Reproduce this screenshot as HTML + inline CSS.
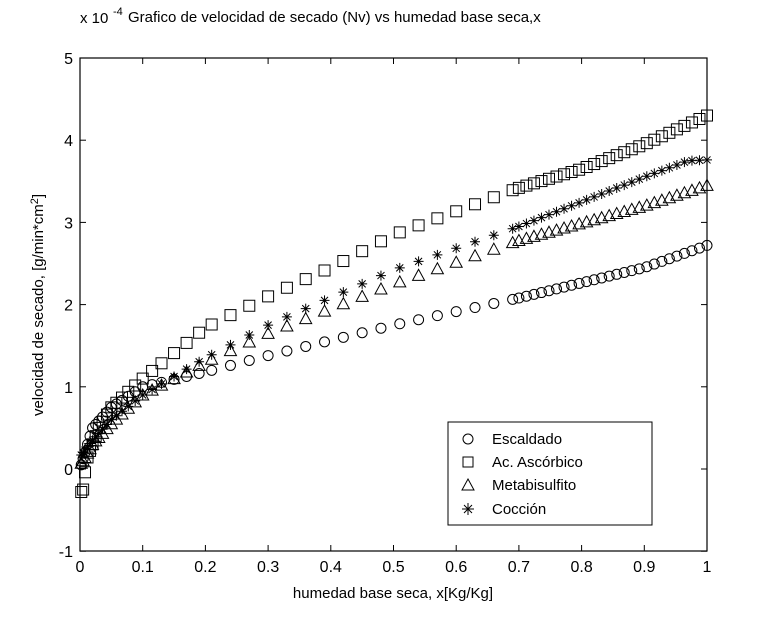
<!DOCTYPE html>
<html><head><meta charset="utf-8"><style>
body{margin:0;background:#fff}
svg{display:block}
text{font-family:"Liberation Sans",sans-serif;fill:#000}
</style></head><body>
<svg id="s" width="764" height="624" xmlns="http://www.w3.org/2000/svg">
<rect width="764" height="624" fill="#fff"/>
<g id="data" fill="none" stroke="#000" stroke-width="1"></g>
<rect x="80" y="58" width="627" height="493" fill="none" stroke="#000" stroke-width="1.2"/>
<g id="ticks" stroke="#000" stroke-width="1"></g>
<g font-size="16" id="lab"></g>
<text x="80" y="23" font-size="15">x 10</text><text x="113" y="15" font-size="11">-4</text>
<text x="128" y="22" font-size="15">Grafico de velocidad de secado (Nv) vs humedad base seca,x</text>
<text x="393" y="598" font-size="15" text-anchor="middle">humedad base seca, x[Kg/Kg]</text>
<text transform="translate(43,305) rotate(-90)" font-size="15" text-anchor="middle">velocidad de secado, [g/min*cm<tspan dy="-5" font-size="11">2</tspan><tspan dy="5">]</tspan></text>
<rect x="448" y="422" width="204" height="103" fill="#fff" stroke="#000"/>
<g fill="none" stroke="#000">
<circle cx="468" cy="439" r="5"/>
<rect x="463" y="457" width="10" height="10"/>
<polygon points="468,479 474,490 462,490"/>
<path d="M462,509h12M468,503v12M464,505l8,8M472,505l-8,8"/>
</g>
<g font-size="15"><text x="492" y="444">Escaldado</text><text x="492" y="467">Ac. Ascórbico</text><text x="492" y="490">Metabisulfito</text><text x="492" y="514">Cocción</text></g>
</svg>
<script>
var X=v=>80+v*627,Y=v=>469-v*82.2;
var tk=document.getElementById('ticks'),lab=document.getElementById('lab'),h='',l='';
for(var i=0;i<=10;i++){var x=X(i/10);h+=`<line x1="${x}" y1="551" x2="${x}" y2="545"/><line x1="${x}" y1="58" x2="${x}" y2="64"/>`;l+=`<text x="${x}" y="572" text-anchor="middle">${i==0?'0':i==10?'1':(i/10)}</text>`}
for(var j=-1;j<=5;j++){var y=Y(j);h+=`<line x1="80" y1="${y}" x2="86" y2="${y}"/><line x1="707" y1="${y}" x2="701" y2="${y}"/>`;l+=`<text x="73" y="${y+6}" text-anchor="end">${j}</text>`}
tk.innerHTML=h;lab.innerHTML=l;
function interp(p,x){for(var i=1;i<p.length;i++)if(x<=p[i][0]){var a=p[i-1],b=p[i];return a[1]+(b[1]-a[1])*(x-a[0])/(b[0]-a[0])}return p[p.length-1][1]}
var xs=[];[0.002,0.005,0.008,0.012,0.016,0.02,0.025,0.03,0.036,0.043,0.05,0.058,0.067,0.077,0.088,0.1,0.115,0.13,0.15,0.17,0.19].forEach(v=>xs.push(v));
for(var v=0.21;v<0.7;v+=0.03)xs.push(v);for(var v=0.7;v<=1.0001;v+=0.012)xs.push(v);
var C=[[0,0],[0.02,0.5],[0.05,0.75],[0.1,1.0],[0.2,1.18],[0.3,1.38],[0.5,1.75],[0.7,2.08],[0.9,2.45],[1,2.72]];
var S=[[0,-0.3],[0.005,-0.25],[0.01,0.1],[0.03,0.5],[0.05,0.75],[0.1,1.1],[0.2,1.72],[0.3,2.1],[0.4,2.45],[0.5,2.85],[0.7,3.42],[0.8,3.65],[0.9,3.95],[1,4.3]];
var T=[[0,0.05],[0.005,0.1],[0.02,0.3],[0.05,0.55],[0.1,0.9],[0.2,1.3],[0.3,1.65],[0.5,2.25],[0.7,2.78],[0.9,3.2],[1,3.45]];
var A=[[0,0.15],[0.005,0.2],[0.02,0.35],[0.05,0.6],[0.1,0.9],[0.2,1.35],[0.3,1.75],[0.5,2.42],[0.7,2.95],[0.9,3.55],[0.97,3.75],[1,3.76]];
var d='';
xs.forEach(x=>{var px=X(x);
var y=Y(interp(C,x));d+=`<circle cx="${px}" cy="${y}" r="5"/>`;
y=Y(interp(S,x));d+=`<rect x="${px-5.5}" y="${y-5.5}" width="11" height="11"/>`;
y=Y(interp(T,x));d+=`<polygon points="${px},${y-6} ${px+6},${y+5} ${px-6},${y+5}"/>`;
y=Y(interp(A,x));d+=`<path d="M${px-5},${y}h10M${px},${y-5}v10M${px-3.5},${y-3.5}l7,7M${px+3.5},${y-3.5}l-7,7"/>`;});
document.getElementById('data').innerHTML=d;
</script>
</body></html>
